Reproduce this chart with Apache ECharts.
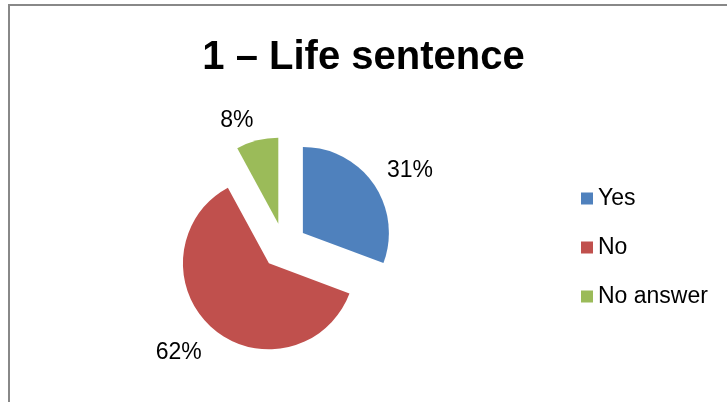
<!DOCTYPE html>
<html>
<head>
<meta charset="utf-8">
<script src="https://cdn.jsdelivr.net/npm/echarts@6/dist/echarts.min.js"></script>
<style>
html,body{margin:0;padding:0;background:#fff;}
#chart{width:727px;height:402px;}
</style>
</head>
<body>
<div id="chart"></div>
<script>
const titleText = '1 – Life sentence';
const categories = ['Yes', 'No', 'No answer'];
const values = [31, 62, 8];
const colors = ['#4F81BD', '#C0504D', '#9BBB59'];

const labelShift = [[-4, -5], [4, 13], [5, -5]];

const chart = echarts.init(document.getElementById('chart'), null, {renderer: 'canvas'});
const data = categories.map((c, i) => ({
  name: c,
  value: values[i],
  selected: true,
  itemStyle: {color: colors[i]}
}));

chart.setOption({
  animation: false,
  backgroundColor: '#fff',
  title: {
    text: titleText,
    left: 'center',
    top: 33,
    textStyle: {fontFamily: 'Liberation Sans', fontWeight: 'bold', fontSize: 40, color: '#000'}
  },
  graphic: [{
    type: 'rect',
    shape: {x: 9, y: 5, width: 800, height: 500},
    style: {fill: 'none', stroke: '#888', lineWidth: 2}
  }],
  legend: {
    orient: 'vertical',
    left: 576,
    top: 182,
    icon: 'rect',
    itemWidth: 12,
    itemHeight: 12,
    itemGap: 26,
    selectedMode: false,
    textStyle: {fontFamily: 'Liberation Sans', fontSize: 23, lineHeight: 23, color: '#000'},
    data: categories
  },
  series: [{
    type: 'pie',
    center: [284, 246],
    radius: 86,
    startAngle: 90,
    clockwise: true,
    selectedMode: 'multiple',
    selectedOffset: 23,
    avoidLabelOverlap: false,
    emphasis: {disabled: true},
    label: {
      show: true,
      position: 'outside',
      formatter: p => p.value + '%',
      fontFamily: 'Liberation Sans',
      fontSize: 23,
      color: '#000'
    },
    labelLine: {show: false, length: 15, length2: 0},
    labelLayout: p => ({dx: labelShift[p.dataIndex][0], dy: labelShift[p.dataIndex][1]}),
    data: data
  }]
});
</script>
</body>
</html>
